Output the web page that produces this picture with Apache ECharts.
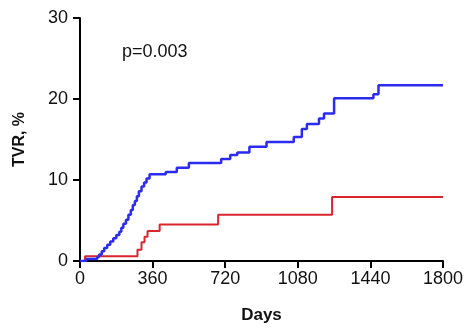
<!DOCTYPE html>
<html>
<head>
<meta charset="utf-8">
<script src="https://cdn.jsdelivr.net/npm/echarts@6/dist/echarts.min.js"></script>
<style>
  html, body { margin: 0; padding: 0; background: #fff; }
  #chart { width: 467px; height: 329px; }
</style>
</head>
<body>
<div id="chart"></div>
<script>
// Kaplan-Meier style cumulative TVR (%) by day
const xTicks = [0, 360, 720, 1080, 1440, 1800];
const yTicks = [0, 10, 20, 30];
const seriesNames = ["Group 1", "Group 2"];

const redDays = [0, 25, 285, 305, 320, 335, 395, 685, 1250, 1800];
const redVals = [0, 0.6, 1.4, 2.3, 3.0, 3.7, 4.5, 5.7, 7.9, 7.9];

const blueDays = [0, 30, 85, 95, 108, 120, 135, 150, 165, 180, 195, 205, 215, 228, 240, 252, 262, 272, 282, 292, 305, 318, 330, 345, 425, 480, 540, 700, 745, 780, 840, 925, 1060, 1100, 1125, 1185, 1210, 1260, 1455, 1480, 1800];
const blueVals = [0, 0.25, 0.5, 0.8, 1.2, 1.6, 2.0, 2.4, 2.8, 3.2, 3.6, 4.1, 4.6, 5.1, 5.7, 6.3, 6.9, 7.4, 8.0, 8.6, 9.2, 9.7, 10.2, 10.7, 11.0, 11.5, 12.1, 12.6, 13.1, 13.4, 14.1, 14.7, 15.3, 16.3, 16.9, 17.6, 18.2, 20.1, 20.6, 21.7, 21.7];

const pText = "p=0.003";

const zip = (xs, ys) => xs.map((x, i) => [x, ys[i]]);

const chart = echarts.init(document.getElementById("chart"));
const fontFamily = "Liberation Sans, Arial, sans-serif";
const axisFont = { color: "#111", fontSize: 18, fontFamily: fontFamily };

chart.setOption({
  animation: false,
  grid: { left: 80, right: 24, top: 18, bottom: 68 },
  legend: {
    orient: "vertical",
    right: -70,
    top: 31,
    padding: 0,
    itemGap: 19,
    itemWidth: 14,
    itemHeight: 10,
    textStyle: { fontSize: 12, color: "#111" },
    data: seriesNames
  },
  graphic: [
    {
      type: "text",
      left: 122,
      top: 43,
      style: { text: pText, fontSize: 18, fill: "#111", fontFamily: fontFamily }
    }
  ],
  xAxis: {
    type: "value",
    min: xTicks[0],
    max: xTicks[xTicks.length - 1],
    interval: 360,
    name: "Days",
    nameLocation: "middle",
    nameGap: 46,
    nameTextStyle: { color: "#111", fontSize: 17, fontWeight: "bold", fontFamily: fontFamily },
    axisLine: { lineStyle: { color: "#000", width: 2 } },
    axisTick: { show: true, length: 7, lineStyle: { color: "#000", width: 2 } },
    axisLabel: Object.assign({ margin: 9, formatter: (v) => String(v) }, axisFont),
    splitLine: { show: false }
  },
  yAxis: {
    type: "value",
    min: yTicks[0],
    max: yTicks[yTicks.length - 1],
    interval: 10,
    name: "TVR, %",
    nameLocation: "middle",
    nameGap: 52,
    nameTextStyle: { color: "#111", fontSize: 16, fontWeight: "bold", fontFamily: fontFamily },
    axisLine: { show: true, lineStyle: { color: "#000", width: 2 } },
    axisTick: { show: true, length: 7, lineStyle: { color: "#000", width: 2 } },
    axisLabel: Object.assign({ margin: 12 }, axisFont),
    splitLine: { show: false }
  },
  series: [
    {
      name: seriesNames[0],
      type: "line",
      step: "end",
      showSymbol: false,
      symbol: "none",
      z: 3,
      itemStyle: { color: "#d8262c" },
      lineStyle: { color: "#d8262c", width: 2 },
      data: zip(redDays, redVals)
    },
    {
      name: seriesNames[1],
      type: "line",
      step: "end",
      showSymbol: false,
      symbol: "none",
      z: 4,
      itemStyle: { color: "#2b2bf2" },
      lineStyle: { color: "#2b2bf2", width: 2.5 },
      data: zip(blueDays, blueVals)
    }
  ]
});
</script>
</body>
</html>
